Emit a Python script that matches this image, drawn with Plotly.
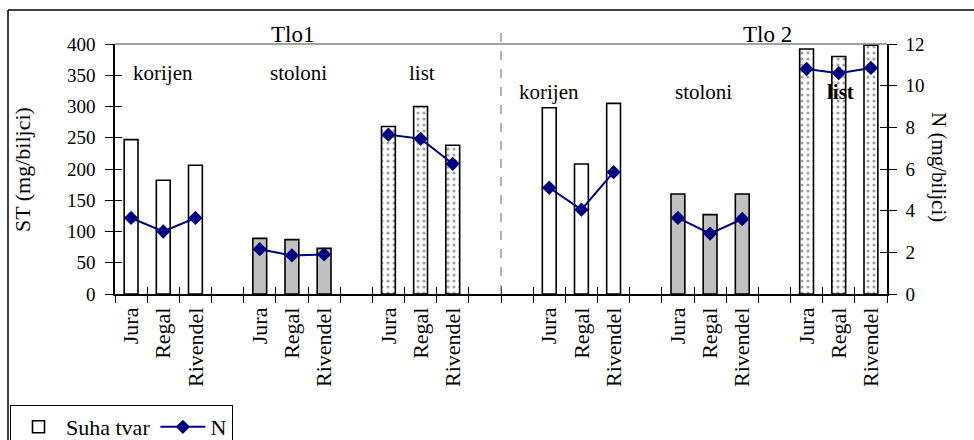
import plotly.graph_objects as go

# ---- data ----
soils = ["Tlo1", "Tlo 2"]
organs = ["korijen", "stoloni", "list"]
cultivars = ["Jura", "Regal", "Rivendel"]

# 24 category slots (blank slots separate the groups)
categories = ["Jura", "Regal", "Rivendel", "",
              "Jura", "Regal", "Rivendel", "",
              "Jura", "Regal", "Rivendel", "",
              "", "Jura", "Regal", "Rivendel",
              "", "Jura", "Regal", "Rivendel",
              "", "Jura", "Regal", "Rivendel"]
organ_of = ["korijen"] * 4 + ["stoloni"] * 4 + ["list"] * 4 + \
           ["korijen"] * 4 + ["stoloni"] * 4 + ["list"] * 4
st_values = [247, 182, 206, None,
             89, 87, 73, None,
             268, 300, 238, None,
             None, 298, 208, 305,
             None, 160, 127, 160,
             None, 392, 380, 398]
n_values = [3.65, 3.0, 3.65, None,
            2.15, 1.85, 1.9, None,
            7.65, 7.45, 6.25, None,
            None, 5.1, 4.05, 5.85,
            None, 3.65, 2.9, 3.6,
            None, 10.8, 10.6, 10.85]

FONT = "Liberation Serif"
xs = list(range(len(categories)))
fills = {"korijen": "white", "stoloni": "#c0c0c0", "list": "white"}
patterns = {"korijen": "", "stoloni": "", "list": "."}

fig = go.Figure()
fig.add_trace(go.Bar(
    x=xs, y=st_values, name="Suha tvar", width=0.43,
    marker=dict(color=[fills[o] for o in organ_of],
                line=dict(color="black", width=1.6),
                pattern=dict(shape=[patterns[o] for o in organ_of],
                             fgcolor="black", bgcolor="white",
                             size=6, solidity=0.22)),
))
fig.add_trace(go.Scatter(
    x=xs, y=n_values, name="N", yaxis="y2", mode="lines+markers",
    connectgaps=False,
    line=dict(color="#000080", width=2),
    marker=dict(symbol="diamond", size=11, color="#000080"),
))
# empty helper traces so the tick-only overlay axes get drawn
for xa, ya in [("x2", "y"), ("x3", "y"), ("x", "y3"), ("x", "y4")]:
    fig.add_trace(go.Scatter(x=[], y=[], xaxis=xa, yaxis=ya,
                             showlegend=False, hoverinfo="skip"))

centers = [i for i, c in enumerate(categories) if c]
labels = [c for c in categories if c]
bounds = [i - 0.5 for i in range(len(categories) + 1)]

ytickfont = dict(family=FONT, size=19, color="black")
xtickfont = dict(family=FONT, size=22, color="black")
tickonly = dict(showticklabels=False, showgrid=False, zeroline=False,
                showline=False, tickcolor="black", tickwidth=1.3)
fig.update_layout(
    width=974, height=440,
    margin=dict(l=115, r=87, t=44, b=146, autoexpand=False),
    paper_bgcolor="white", plot_bgcolor="white",
    font=dict(family=FONT, size=20, color="black"),
    barmode="overlay",
    showlegend=True,
    legend=dict(orientation="h", x=(10 - 115) / 772, y=(294 - 405) / 250,
                xanchor="left", yanchor="top",
                bordercolor="black", borderwidth=1, bgcolor="white",
                font=dict(family=FONT, size=22), traceorder="normal",
                itemwidth=45),
    xaxis=dict(range=[-0.5, 23.5], tickvals=centers, ticktext=labels,
               tickangle=-90, ticks="", showgrid=False, zeroline=False,
               showline=True, linecolor="black", linewidth=1.5,
               tickfont=xtickfont, ticklabelstandoff=3, anchor="y"),
    xaxis2=dict(range=[-0.5, 23.5], overlaying="x", anchor="y",
                tickvals=bounds, ticks="outside", ticklen=8, **tickonly),
    xaxis3=dict(range=[-0.5, 23.5], overlaying="x", anchor="y",
                tickvals=bounds, ticks="inside", ticklen=7, **tickonly),
    yaxis=dict(range=[0, 400], dtick=50, ticks="outside", ticklen=8,
               tickcolor="black", tickwidth=1.3, showgrid=False,
               zeroline=False, showline=True, linecolor="black",
               linewidth=1.5, tickfont=ytickfont, ticklabelstandoff=6),
    yaxis2=dict(range=[0, 12], dtick=2, overlaying="y", side="right",
                ticks="outside", ticklen=8, tickcolor="black",
                tickwidth=1.3, showgrid=False, zeroline=False,
                showline=True, linecolor="black", linewidth=1.5,
                tickfont=ytickfont, ticklabelstandoff=5),
    yaxis3=dict(range=[0, 400], dtick=50, overlaying="y", anchor="x",
                side="left", ticks="inside", ticklen=7, **tickonly),
    yaxis4=dict(range=[0, 12], dtick=2, overlaying="y", anchor="x",
                side="right", ticks="inside", ticklen=7, **tickonly),
)

shapes = [
    # gray top border of plot area
    dict(type="line", xref="paper", yref="paper", x0=0, x1=1, y0=1, y1=1,
         line=dict(color="#808080", width=1.5)),
    # dashed divider between soils
    dict(type="line", xref="x", yref="paper", x0=11.5, x1=11.5,
         y0=0, y1=(294 - 30) / 250,
         line=dict(color="#808080", width=1.2, dash="dash")),
    # outer frame
    dict(type="line", xref="paper", yref="paper",
         x0=(8 - 115) / 772, x1=(974 - 115) / 772,
         y0=(294 - 10) / 250, y1=(294 - 10) / 250,
         line=dict(color="black", width=1.5)),
    dict(type="line", xref="paper", yref="paper",
         x0=(8 - 115) / 772, x1=(8 - 115) / 772,
         y0=(294 - 10) / 250, y1=(294 - 440) / 250,
         line=dict(color="black", width=1.5)),
]
fig.update_layout(shapes=shapes)

ann = []
# soil titles
for txt, xpos in zip(soils, [5.03, 19.77]):
    ann.append(dict(text=txt, x=xpos, y=(294 - 35) / 250, xref="x",
                    yref="paper", showarrow=False, xanchor="center",
                    yanchor="middle", font=dict(family=FONT, size=23)))
# organ labels
organ_pos = [(organs[0], 1.0, 73, False), (organs[1], 5.2, 73, False),
             (organs[2], 9.05, 73, False),
             (organs[0], 13.0, 92, False), (organs[1], 17.8, 92, False),
             (organs[2], 22.05, 92, True)]
for txt, xpos, ypx, bold in organ_pos:
    ann.append(dict(text=f"<b>{txt}</b>" if bold else txt,
                    x=xpos, y=(294 - ypx) / 250, xref="x", yref="paper",
                    showarrow=False, xanchor="center", yanchor="middle",
                    font=dict(family=FONT, size=21)))
# axis titles
ann.append(dict(text="ST (mg/biljci)", textangle=-90, x=(22 - 115) / 772,
                y=(294 - 170) / 250, xref="paper", yref="paper",
                xanchor="center", yanchor="middle",
                showarrow=False, font=dict(family=FONT, size=22)))
ann.append(dict(text="N (mg/biljci)", textangle=90, x=(939 - 115) / 772,
                y=(294 - 167) / 250, xref="paper", yref="paper",
                xanchor="center", yanchor="middle",
                showarrow=False, font=dict(family=FONT, size=21)))
fig.update_layout(annotations=ann)

fig.write_html("out.html", config={"displayModeBar": False},
               post_script="document.body.style.margin='0';")
